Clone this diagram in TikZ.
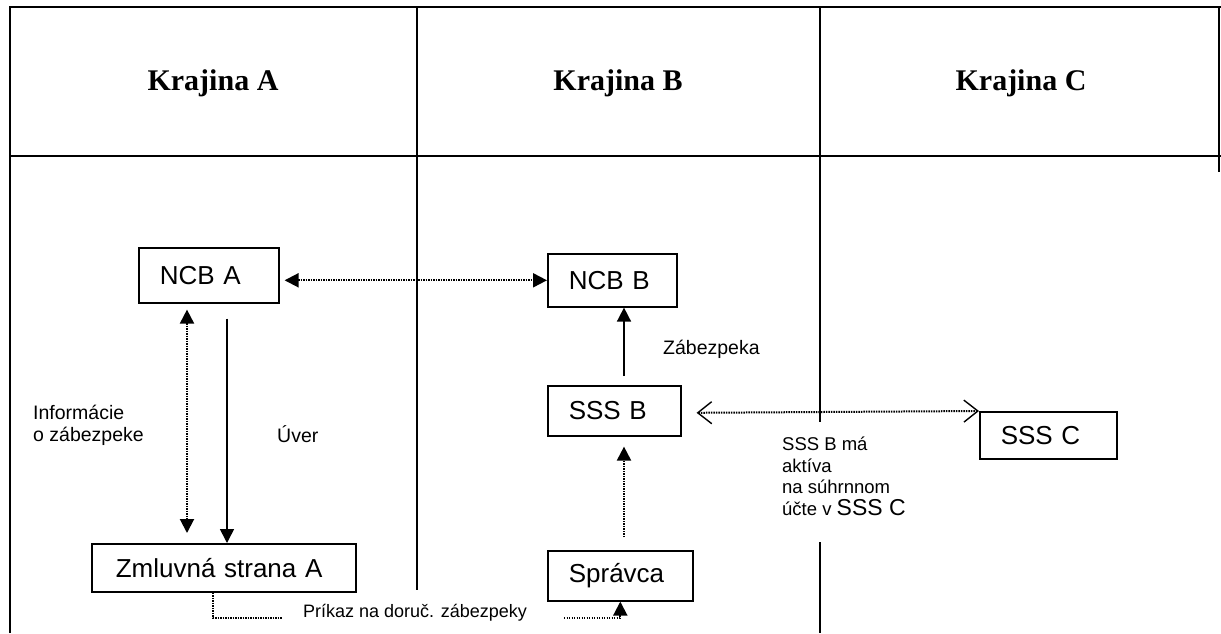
\documentclass[tikz,border=0pt]{standalone}
\usepackage{fontspec}
\setmainfont{Liberation Sans}
\newfontfamily\headfont{Liberation Serif}
\usetikzlibrary{arrows.meta,calc}
\tikzset{
  tri/.tip={Triangle[length=14pt,width=14pt]},
  barb/.tip={Straight Barb[length=14pt,width=22pt,line width=1.4pt]}
}
\begin{document}
\begin{tikzpicture}[x=1pt,y=-1pt,
  frame/.style={line width=2.5pt},
  box/.style={draw,line width=1.6pt,inner xsep=21pt,inner ysep=0pt,align=left,anchor=north west,font=\fontsize{26}{30}\selectfont},
  head/.style={font={\headfont\bfseries\fontsize{30}{34}\selectfont}},
  lbl/.style={inner sep=0pt,align=left,font=\fontsize{19.5}{21.5}\selectfont},
  conn/.style={line width=1.6pt},
  dots/.style={line width=2pt,dash pattern=on 1.4pt off 1.1pt}
]
\useasboundingbox (0,0) rectangle (1221,633);
\fill[white] (0,0) rectangle (1221,633);
% table frame
\draw[frame] (10,633) -- (10,7) -- (1221,7);
\draw[frame] (10,156) -- (1221,156);
\draw[frame] (1219,7) -- (1219,172);
\draw[frame] (417,7) -- (417,590);
\draw[frame] (820,7) -- (820,422);
\draw[frame] (820,542) -- (820,633);
% headers
\node[head] (ha) at (213,83) {Krajina A};
\node[head] (hb) at (618,83) {Krajina B};
\node[head] (hc) at (1021,83) {Krajina C};
% boxes
\node[box,text width=98pt,minimum height=55pt] (ncba) at (138,247) {NCB A};
\node[box,text width=87pt,minimum height=53pt] (ncbb) at (547,253) {NCB B};
\node[box,text width=91pt,minimum height=50pt] (sssb) at (547,385) {SSS B};
\node[box,text width=95pt,minimum height=47pt] (sssc) at (979,411) {SSS C};
\node[box,inner xsep=24pt,text width=216pt,minimum height=48pt] (zml) at (91,543) {Zmluvná strana A};
\node[box,text width=103pt,minimum height=50pt] (spr) at (547,550) {Správca};
% labels
\node[lbl,anchor=north west] (info) at (33,405) {Informácie\\o zábezpeke};
\node[lbl,anchor=base west] (uver) at (277,442) {Úver};
\node[lbl,anchor=base west] (zab) at (663,354) {Zábezpeka};
\node[lbl,anchor=north west,font=\fontsize{18.5}{21.5}\selectfont] (akt) at (782,437)
  {SSS B má\\aktíva\\na súhrnnom\\účte v {\fontsize{23}{21.5}\selectfont SSS C}};
\node[lbl,anchor=base west,font=\fontsize{18}{21}\selectfont] (prikaz) at (303,617) {Príkaz na doruč. zábezpeky};
% connectors
\draw[dots,tri-tri] ([xshift=5pt]ncba.east |- ncbb.west) -- (ncbb.west);
\draw[dots,tri-tri] ($(ncba.south west)+(49,6)$) -- ($(zml.north west)+(96,-10)$);
\draw[conn,-tri] ($(ncba.south west)+(89,15)$) -- ($(zml.north west)+(136,0)$);
\draw[conn,-tri] ($(sssb.north west)+(77,-9)$) -- ($(ncbb.south west)+(77,0)$);
\draw[dots,-tri] ($(spr.north west)+(77,-13)$) -- ($(sssb.south west)+(77,10)$);
\draw[dots,barb-barb] ($(sssb.east)+(15,2)$) -- (sssc.north west);
\coordinate (c1) at (282,618);
\coordinate (c2) at (564,618);
\draw[dots] ($(zml.south west)+(122,0)$) |- (c1);
\draw[dots,-tri] (c2) -| (spr.south);
\end{tikzpicture}
\end{document}
